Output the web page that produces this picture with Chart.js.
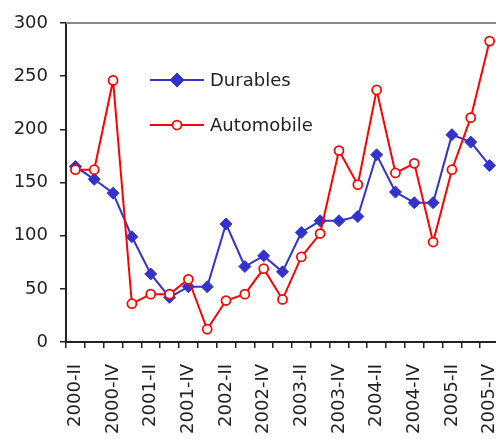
<!DOCTYPE html>
<html>
<head>
<meta charset="utf-8">
<script src="https://cdn.jsdelivr.net/npm/chart.js@4/dist/chart.umd.min.js"></script>
<style>
  html, body { margin: 0; padding: 0; background: #fff; overflow: hidden; }
  #wrap { width: 496px; height: 439px; overflow: hidden; }
  canvas { display: block; }
</style>
</head>
<body>
<div id="wrap"><canvas id="c" width="500" height="439"></canvas></div>
<script>
// Quarterly index values, 2000-II to 2005-IV
const quarters = [
  '2000-II', '2000-III', '2000-IV',
  '2001-I', '2001-II', '2001-III', '2001-IV',
  '2002-I', '2002-II', '2002-III', '2002-IV',
  '2003-I', '2003-II', '2003-III', '2003-IV',
  '2004-I', '2004-II', '2004-III', '2004-IV',
  '2005-I', '2005-II', '2005-III', '2005-IV'
];
const durables = [165, 153, 140, 99, 64, 42, 52, 52, 111, 71, 81, 66, 103, 114, 114, 118, 176, 141, 131, 131, 195, 188, 166];
const automobile = [162, 162, 246, 36, 45, 45, 59, 12, 39, 45, 69, 40, 80, 102, 180, 148, 237, 159, 168, 94, 162, 211, 283];
const yTicks = [0, 50, 100, 150, 200, 250, 300];

const FONT = 'DejaVu Sans';
const BLUE = '#3333CC';
const RED = '#FF0000';

// Frame line along the top of the plot, plus the in-plot legend
const framePlugin = {
  id: 'frame',
  afterDraw(chart) {
    const { ctx, chartArea } = chart;
    ctx.save();
    ctx.strokeStyle = '#888888';
    ctx.lineWidth = 2;
    ctx.beginPath();
    ctx.moveTo(chartArea.left, chartArea.top);
    ctx.lineTo(chartArea.right + 5, chartArea.top);
    ctx.stroke();

    const x0 = 150, x1 = 204, tx = 210;
    const rows = [80, 125];
    chart.data.datasets.forEach((ds, i) => {
      const y = rows[i];
      const cx = (x0 + x1) / 2;
      ctx.strokeStyle = ds.borderColor;
      ctx.lineWidth = ds.borderWidth;
      ctx.beginPath();
      ctx.moveTo(x0, y);
      ctx.lineTo(x1, y);
      ctx.stroke();
      ctx.fillStyle = ds.pointBackgroundColor;
      ctx.strokeStyle = ds.pointBorderColor;
      ctx.lineWidth = ds.pointBorderWidth;
      ctx.beginPath();
      if (ds.pointStyle === 'circle') {
        ctx.arc(cx, y, ds.pointRadius, 0, Math.PI * 2);
      } else {
        const r = ds.pointRadius + 1;
        ctx.moveTo(cx - r, y); ctx.lineTo(cx, y - r); ctx.lineTo(cx + r, y); ctx.lineTo(cx, y + r); ctx.closePath();
      }
      ctx.fill();
      ctx.stroke();
      ctx.fillStyle = '#222';
      ctx.font = '18px "' + FONT + '"';
      ctx.textAlign = 'left';
      ctx.textBaseline = 'middle';
      ctx.fillText(ds.label, tx, y + 1);
    });
    ctx.restore();
  }
};

new Chart(document.getElementById('c'), {
  type: 'line',
  data: {
    labels: quarters,
    datasets: [
      {
        label: 'Durables',
        data: durables,
        order: 1,
        borderColor: BLUE,
        borderWidth: 2,
        pointStyle: 'rectRot',
        pointRadius: 6,
        pointBackgroundColor: BLUE,
        pointBorderColor: BLUE,
        pointBorderWidth: 1,
        tension: 0
      },
      {
        label: 'Automobile',
        data: automobile,
        order: 0,
        borderColor: RED,
        borderWidth: 2,
        pointStyle: 'circle',
        pointRadius: 4.5,
        pointBackgroundColor: '#FFFFFF',
        pointBorderColor: RED,
        pointBorderWidth: 1.75,
        tension: 0
      }
    ]
  },
  options: {
    responsive: false,
    animation: false,
    layout: { autoPadding: false, padding: { top: 23, right: 1, left: 0, bottom: 0 } },
    plugins: { legend: { display: false }, tooltip: { enabled: false } },
    scales: {
      x: {
        offset: true,
        grid: { offset: true, drawOnChartArea: false, drawTicks: true, tickLength: 6, color: '#222', lineWidth: 1.5 },
        border: { color: '#222', width: 2 },
        ticks: {
          autoSkip: false,
          maxRotation: 90,
          minRotation: 90,
          padding: 16,
          color: '#222',
          font: { family: FONT, size: 18 },
          callback: (v, i) => (i % 2 === 0 ? quarters[i] : '')
        },
        afterFit: (s) => { s.height = 97; s.paddingLeft = 0; s.paddingRight = 0; }
      },
      y: {
        min: 0,
        max: 300,
        afterBuildTicks: (s) => { s.ticks = yTicks.map(v => ({ value: v })); },
        grid: { drawOnChartArea: false, drawTicks: true, tickLength: 6, color: '#222', lineWidth: 1.5 },
        border: { color: '#222', width: 2 },
        ticks: {
          padding: 12,
          color: '#222',
          font: { family: FONT, size: 18 }
        },
        afterFit: (s) => { s.width = 66; s.paddingTop = 0; s.paddingBottom = 0; }
      }
    }
  },
  plugins: [framePlugin]
});
</script>
</body>
</html>
